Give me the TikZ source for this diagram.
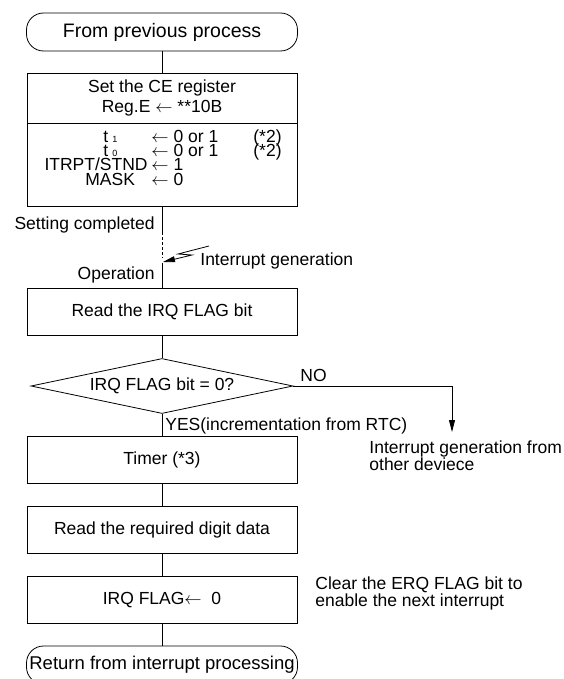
\documentclass[tikz,border=0pt]{standalone}
\usepackage{fontspec}
\setmainfont{Liberation Sans}
\usetikzlibrary{shapes.geometric,arrows.meta}

\newcommand{\smalldigit}[1]{\hspace{4pt}{\fontsize{9}{9}\selectfont #1}}

\begin{document}
\begin{tikzpicture}[x=1pt,y=-1pt,
  font=\fontsize{17.5}{14}\selectfont,
  line width=0.8pt,
  txt/.style={inner sep=0pt},
  proc/.style={draw,minimum width=270pt,minimum height=47pt,inner sep=0pt},
  term/.style={draw,rounded corners=17pt,minimum width=271pt,minimum height=38pt,inner sep=0pt,
    font=\fontsize{19.5}{20}\selectfont},
  dec/.style={draw,diamond,aspect=4.76,minimum width=262pt,minimum height=55pt,inner sep=0pt},
  tip/.style={-{Triangle[length=12pt,width=6pt]}}]
\useasboundingbox (0,0) rectangle (564,679);

\node[term] (start) at (162,32) {From previous process};
\node[proc,minimum height=50pt,align=center,font=\fontsize{17.5}{20}\selectfont] (ceup) at (162,98)
  {Set the CE register\\Reg.E $\leftarrow$ **10B};
\node[proc,minimum height=83pt] (celow) at (162,164.5) {};

\node[txt,anchor=base west] (tone) at (103,143) {t\smalldigit{1}};
\node[txt,anchor=base west] (toneval) at (151,143) {$\leftarrow$ 0 or 1};
\node[txt,anchor=base west] (tonenote) at (253,143) {(*2)};
\node[txt,anchor=base west] (tzero) at (103,157) {t\smalldigit{0}};
\node[txt,anchor=base west] (tzeroval) at (151,157) {$\leftarrow$ 0 or 1};
\node[txt,anchor=base west] (tzeronote) at (253,157) {(*2)};
\node[txt,anchor=base east] (itrpt) at (148,171) {ITRPT/STND};
\node[txt,anchor=base west] (itrptval) at (151,171) {$\leftarrow$ 1};
\node[txt,anchor=base west] (mask) at (85,185) {MASK};
\node[txt,anchor=base west] (maskval) at (151,185) {$\leftarrow$ 0};

\coordinate (setdone) at (162,232);
\coordinate (dashend) at (162,258);
\coordinate (optip) at (163,262);
\coordinate (opstart) at (162,263);
\coordinate (bolt) at (209,246);
\node[txt,anchor=base east] (setlbl) at (155,229) {Setting completed};
\node[txt,anchor=base east] (oplbl) at (155,279) {Operation};
\node[txt,anchor=base west] (intlbl) at (200,265) {Interrupt generation};

\node[proc] (readirq) at (162,311.5) {Read the IRQ FLAG bit};
\node[dec] (irqtest) at (162,386) {IRQ FLAG bit = 0?};
\node[txt,anchor=base west] (nolbl) at (300,381) {NO};
\node[txt,anchor=base west] (yeslbl) at (165,430) {YES(incrementation from RTC)};
\coordinate (other) at (452,432);
\node[txt,anchor=north west,align=left,font=\fontsize{17.5}{13}\selectfont] (otherlbl) at (369,440)
  {Interrupt generation from\\other deviece};

\node[proc] (timer) at (162,459.5) {Timer (*3)};
\node[proc] (readdig) at (162,529.5) {Read the required digit data};
\node[proc] (clrflag) at (162,600) {IRQ FLAG$\leftarrow$\ \ 0};
\node[txt,anchor=north west,align=left,font=\fontsize{17.5}{13}\selectfont] (clrlbl) at (315,576)
  {Clear the ERQ FLAG bit to\\enable the next interrupt};
\node[term,font=\fontsize{18.5}{20}\selectfont] (ret) at (162,665) {Return from interrupt processing};

\draw (start) -- (ceup);
\draw (celow.south) -- (setdone);
\draw[dashed,dash pattern=on 3pt off 2pt,line width=0.6pt] (setdone) -- (dashend);
\draw (opstart) -- (readirq);
\draw[tip] (bolt) -- (178,254) -- (192,255) -- (optip);
\draw (readirq) -- (irqtest);
\draw[tip] (irqtest.east) -| (other);
\draw (irqtest) -- (timer);
\draw (timer) -- (readdig);
\draw (readdig) -- (clrflag);
\draw (clrflag) -- (ret);
\end{tikzpicture}
\end{document}
